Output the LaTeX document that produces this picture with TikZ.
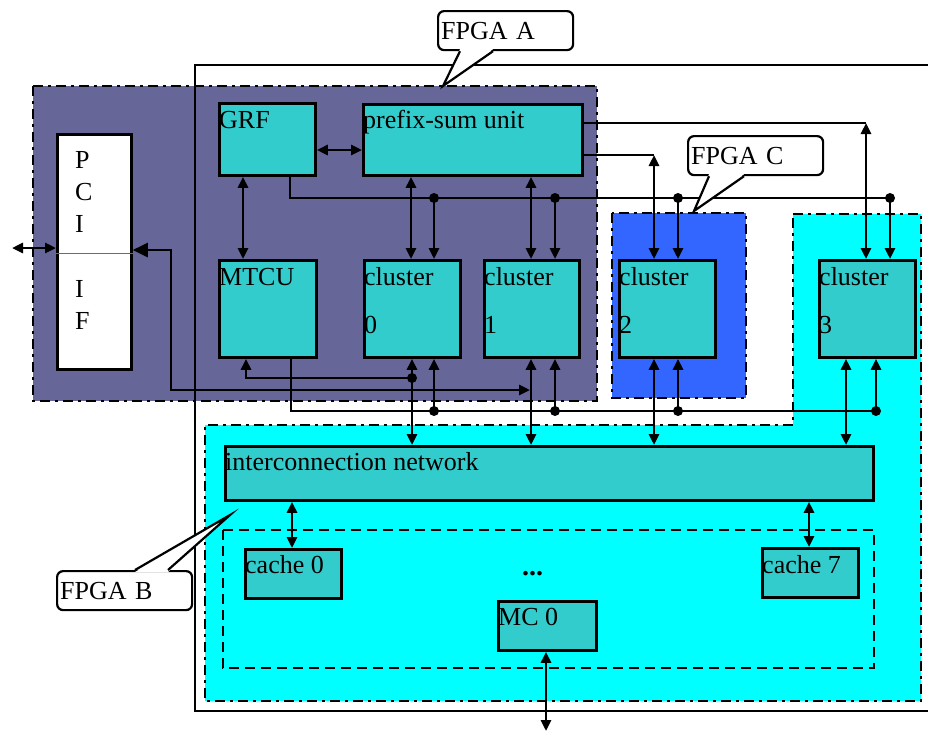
\documentclass[tikz,border=0pt]{standalone}
\usepackage{fontspec}
\setmainfont{Liberation Serif}
\usetikzlibrary{arrows.meta,calc}
\definecolor{blockfill}{HTML}{33CCCC}
\definecolor{fpgaAfill}{HTML}{666699}
\definecolor{fpgaBfill}{HTML}{00FFFF}
\definecolor{fpgaCfill}{HTML}{3366FF}
\begin{document}
\begin{tikzpicture}[x=1pt,y=-1pt,
  region/.style={line width=2.8pt, dash pattern=on 10pt off 5pt on 3pt off 5pt},
  blk/.style={draw, line width=2.8pt, fill=blockfill, inner sep=0pt, anchor=north west},
  tag/.style={anchor=base west, inner sep=0pt, font=\fontsize{26}{31}\selectfont},
  conn/.style={line width=2.7pt},
  bi/.style={conn, {Triangle[length=11pt,width=10pt]}-{Triangle[length=11pt,width=10pt]}},
  tap/.style={conn, -{Triangle[length=11pt,width=10pt]}},
  callout/.style={draw, line width=2.2pt, rounded corners=6pt, fill=white,
    minimum height=39pt, anchor=north west, inner xsep=3pt, inner ysep=0pt,
    text width=129pt, align=left, font=\fontsize{26}{31}\selectfont}]
\useasboundingbox (0,0) rectangle (928,732);

% FPGA regions
\draw[region, fill=fpgaAfill] (33,86) rectangle (597,401);
\draw[region, fill=fpgaCfill] (612,213) rectangle (746,398);
\draw[region, fill=fpgaBfill] (793,214) -- (921,214) -- (921,701) -- (205,701)
  -- (205,425) -- (793,425) -- cycle;
% board outline
\draw[line width=2.6pt] (940,65) -- (195,65) -- (195,711) -- (940,711);
% memory side
\draw[line width=2.8pt, dash pattern=on 10pt off 6pt] (223,530) rectangle (874,668);

% blocks
\node[blk, fill=white, minimum width=74pt, minimum height=235pt] (pci) at (56,133) {};
\draw[fpgaAfill, line width=1pt] (pci.west |- 0,253) -- (pci.east |- 0,253);
\node[blk, minimum width=96pt, minimum height=72pt] (grf) at (218,102) {};
\node[blk, minimum width=219pt, minimum height=71pt] (psu) at (362,103) {};
\node[blk, minimum width=97pt, minimum height=97pt] (mtcu) at (218,259) {};
\node[blk, minimum width=96pt, minimum height=97pt] (cl0) at (363,259) {};
\node[blk, minimum width=95pt, minimum height=97pt] (cl1) at (483,259) {};
\node[blk, minimum width=96pt, minimum height=97pt] (cl2) at (618,259) {};
\node[blk, minimum width=96pt, minimum height=97pt] (cl3) at (818,259) {};
\node[blk, minimum width=648pt, minimum height=54pt] (icn) at (224,445) {};
\node[blk, minimum width=96pt, minimum height=49pt] (ca0) at (244,548) {};
\node[blk, minimum width=96pt, minimum height=49pt] (ca7) at (761,547) {};
\node[blk, minimum width=98pt, minimum height=49pt] (mc0) at (497,600) {};

% block texts
\node[anchor=north west, inner sep=0pt, align=left, font=\fontsize{26}{32}\selectfont] (pcitop) at (75,151) {P\\C\\I};
\node[anchor=north west, inner sep=0pt, align=left, font=\fontsize{26}{32}\selectfont] (pcibot) at (75,280) {I\\F};
\node[tag] (grft) at (219,128) {GRF};
\node[tag] (psut) at (363,128) {prefix-sum unit};
\node[tag] (mtcut) at (219,285) {MTCU};
\node[tag] (cl0a) at (364,285) {cluster};
\node[tag] (cl0b) at (364,333) {0};
\node[tag] (cl1a) at (484,285) {cluster};
\node[tag] (cl1b) at (484,333) {1};
\node[tag] (cl2a) at (619,285) {cluster};
\node[tag] (cl2b) at (619,333) {2};
\node[tag] (cl3a) at (819,285) {cluster};
\node[tag] (cl3b) at (819,333) {3};
\node[tag] (icnt) at (225,470) {interconnection network};
\node[tag] (ca0t) at (245,573) {cache 0};
\node[tag] (ca7t) at (762,573) {cache 7};
\node[tag] (mc0t) at (498,625) {MC 0};
\node[tag, font=\fontsize{28}{31}\selectfont\bfseries] (gap) at (522,575) {...};

% bus points
\coordinate (g0) at (434,198);
\coordinate (g1) at (555,198);
\coordinate (g2) at (678,198);
\coordinate (g3) at (890,198);
\coordinate (b0) at (434,411);
\coordinate (b1) at (555,411);
\coordinate (b2) at (678,411);
\coordinate (b3) at (876,411);
\coordinate (m0) at (412,378);
\coordinate (p2) at (654,155);
\coordinate (p3) at (866,123);
\coordinate (pe) at (530,390);
\coordinate (ext) at (12,248);
\coordinate (mcout) at (546,731);

% GRF / prefix-sum connections
\draw[bi] (grf.east |- 0,150) -- (psu.west |- 0,150);
\draw[bi] (grf.south -| 243,0) -- (mtcu.north -| 243,0);
\draw[bi] (psu.south -| 411,0) -- (cl0.north -| 411,0);
\draw[bi] (psu.south -| 531,0) -- (cl1.north -| 531,0);
\draw[conn] (psu.east |- p2) -- (p2);
\draw[bi] (p2) -- (cl2.north -| p2);
\draw[conn] (psu.east |- p3) -- (p3);
\draw[bi] (p3) -- (cl3.north -| p3);

% GRF broadcast bus
\draw[conn] (grf.south -| 290,0) |- (g3);
\foreach \p/\c in {g0/cl0, g1/cl1, g2/cl2, g3/cl3} {
  \fill (\p) circle (5pt);
  \draw[tap] (\p) -- (\c.north -| \p);
}

% MTCU bus
\draw[conn] (mtcu.south -| 291,0) |- (b3);
\foreach \p/\c in {b0/cl0, b1/cl1, b2/cl2, b3/cl3} {
  \fill (\p) circle (5pt);
  \draw[tap] (\p) -- (\c.south -| \p);
}

% clusters to interconnection network
\draw[bi] (cl0.south -| 412,0) -- (icn.north -| 412,0);
\draw[bi] (cl1.south -| 531,0) -- (icn.north -| 531,0);
\draw[bi] (cl2.south -| 654,0) -- (icn.north -| 654,0);
\draw[bi] (cl3.south -| 846,0) -- (icn.north -| 846,0);
\draw[tap] (m0) -| (mtcu.south -| 246,0);
\fill (m0) circle (5pt);

% PCI interface
\draw[conn, {Triangle[length=11pt,width=10pt]}-{Triangle[length=15pt,width=14pt]}]
  (pe) -| (171,250) -- (pci.east |- 0,250);
\draw[bi] (ext) -- (pci.west |- ext);

% memory side
\draw[bi] (icn.south -| 292,0) -- (ca0.north -| 292,0);
\draw[bi] (icn.south -| 809,0) -- (ca7.north -| 809,0);
\draw[bi] (mc0.south -| mcout) -- (mcout);

% FPGA callouts
\node[callout] (fa) at (437,10) {FPGA A};
\coordinate (fatip) at (443,86);
\fill[white] ($(fa.south -| 460,0)+(0,-2)$) -- (fatip) -- ($(fa.south -| 493,0)+(0,-2)$) -- cycle;
\draw[line width=2.2pt] (fa.south -| 460,0) -- (fatip) -- (fa.south -| 493,0);

\node[callout] (fc) at (687,135) {FPGA C};
\coordinate (fctip) at (694,211);
\fill[white] ($(fc.south -| 709,0)+(0,-2)$) -- (fctip) -- ($(fc.south -| 744,0)+(0,-2)$) -- cycle;
\draw[line width=2.2pt] (fc.south -| 709,0) -- (fctip) -- (fc.south -| 744,0);

\node[callout] (fb) at (56,570) {FPGA B};
\coordinate (fbtip) at (230,515);
\fill[white] ($(fb.north -| 135,0)+(0,2)$) -- (fbtip) -- ($(fb.north -| 168,0)+(0,2)$) -- cycle;
\draw[line width=2.2pt] (fb.north -| 135,0) -- (fbtip) -- (fb.north -| 168,0);
\end{tikzpicture}
\end{document}
